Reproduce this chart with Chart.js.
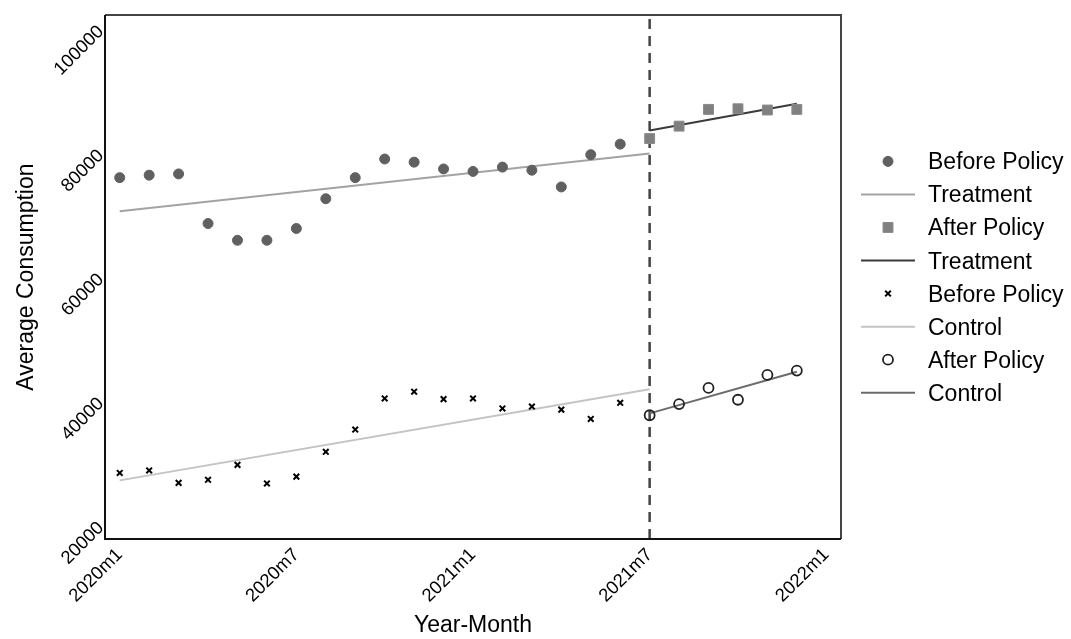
<!DOCTYPE html>
<html>
<head>
<meta charset="utf-8">
<script src="https://cdn.jsdelivr.net/npm/chart.js@4"></script>
<style>
  html, body { margin: 0; padding: 0; background: #fff; }
  #wrap { width: 1071px; height: 639px; }
</style>
</head>
<body>
<div id="wrap"><canvas id="myChart" width="1071" height="639"></canvas></div>
<script>
const FONT = "'Liberation Sans', Arial, sans-serif";

// month index: 0 = 2020m1
const tickMonths = [0, 6, 12, 18, 24];
const tickLabels = ['2020m1', '2020m7', '2021m1', '2021m7', '2022m1'];
const yTicks = [20000, 40000, 60000, 80000, 100000];
const policyMonth = 18;

const beforeMonths = [0, 1, 2, 3, 4, 5, 6, 7, 8, 9, 10, 11, 12, 13, 14, 15, 16, 17];
const afterMonths = [18, 19, 20, 21, 22, 23];

const treatBefore = [76000, 76400, 76600, 68600, 65900, 65900, 67800, 72600, 76000,
                     79000, 78500, 77400, 77000, 77700, 77200, 74500, 79700, 81400];
const treatAfter = [82300, 84300, 87000, 87100, 86900, 87000];
const ctrlBefore = [28400, 28800, 26800, 27300, 29700, 26700, 27800, 31800, 35400,
                    40400, 41500, 40300, 40400, 38800, 39100, 38600, 37100, 39700];
const ctrlAfter = [37700, 39500, 42100, 40200, 44200, 44900];

// fitted lines (end points)
const fitBeforeMonths = [0, 18];
const fitAfterMonths = [18, 23];
const treatBeforeFit = [70600, 79900];
const treatAfterFit = [83600, 87900];
const ctrlBeforeFit = [27200, 41900];
const ctrlAfterFit = [38000, 44700];

const toPoints = (xs, ys) => xs.map((x, i) => ({ x: x, y: ys[i] }));

function lineSet(label, xs, ys, color) {
  return {
    label: label, data: toPoints(xs, ys), showLine: true,
    borderColor: color, borderWidth: 2, pointRadius: 0, fill: false
  };
}

function drawMarker(ctx, ds, x, y) {
  const r = ds.pointRadius;
  ctx.save();
  ctx.fillStyle = ds.backgroundColor;
  ctx.strokeStyle = ds.borderColor;
  ctx.lineWidth = ds.borderWidth;
  ctx.beginPath();
  if (ds.pointStyle === 'circle') {
    ctx.arc(x, y, r, 0, Math.PI * 2);
    ctx.fill();
    ctx.stroke();
  } else if (ds.pointStyle === 'rect') {
    const s = r * Math.SQRT1_2;
    ctx.rect(x - s, y - s, 2 * s, 2 * s);
    ctx.fill();
    ctx.stroke();
  } else if (ds.pointStyle === 'crossRot') {
    const s = r * Math.SQRT1_2;
    ctx.moveTo(x - s, y - s); ctx.lineTo(x + s, y + s);
    ctx.moveTo(x + s, y - s); ctx.lineTo(x - s, y + s);
    ctx.stroke();
  }
  ctx.restore();
}

const sideLegend = {
  id: 'sideLegend',
  afterDraw(chart) {
    const { ctx, chartArea } = chart;
    const sets = chart.data.datasets;
    const rowH = 33.05;
    const y0 = (chartArea.top + chartArea.bottom) / 2 - rowH * (sets.length - 1) / 2;
    const mx = chartArea.right + 47;
    ctx.save();
    ctx.font = '23px ' + FONT;
    ctx.fillStyle = '#000';
    ctx.textBaseline = 'alphabetic';
    sets.forEach((ds, i) => {
      const y = y0 + i * rowH;
      if (ds.showLine) {
        ctx.save();
        ctx.strokeStyle = ds.borderColor;
        ctx.lineWidth = ds.borderWidth;
        ctx.beginPath();
        ctx.moveTo(mx - 27, y);
        ctx.lineTo(mx + 27, y);
        ctx.stroke();
        ctx.restore();
      } else {
        drawMarker(ctx, ds, mx, y);
      }
      ctx.fillText(ds.label, chartArea.right + 87, y + 8);
    });
    ctx.restore();
  }
};

const framePlugin = {
  id: 'frame',
  beforeDatasetsDraw(chart) {
    const { ctx, chartArea: a, scales } = chart;
    const px = scales.x.getPixelForValue(policyMonth);
    ctx.save();
    ctx.strokeStyle = '#444';
    ctx.lineWidth = 2.5;
    ctx.setLineDash([10, 7]);
    ctx.beginPath();
    ctx.moveTo(px, a.top + 4);
    ctx.lineTo(px, a.bottom);
    ctx.stroke();
    ctx.restore();
  },
  afterDraw(chart) {
    const { ctx, chartArea: a } = chart;
    ctx.save();
    ctx.lineWidth = 2;
    ctx.strokeStyle = '#444';
    ctx.beginPath();
    ctx.moveTo(a.left, a.top); ctx.lineTo(a.right, a.top); ctx.lineTo(a.right, a.bottom);
    ctx.stroke();
    ctx.strokeStyle = '#111';
    ctx.beginPath();
    ctx.moveTo(a.left, a.top); ctx.lineTo(a.left, a.bottom); ctx.lineTo(a.right, a.bottom);
    ctx.stroke();
    ctx.restore();
  }
};

const data = {
  datasets: [
    {
      label: 'Before Policy', data: toPoints(beforeMonths, treatBefore),
      pointStyle: 'circle', pointRadius: 5, backgroundColor: '#606060',
      borderColor: '#606060', borderWidth: 1
    },
    lineSet('Treatment', fitBeforeMonths, treatBeforeFit, '#a3a3a3'),
    {
      label: 'After Policy', data: toPoints(afterMonths, treatAfter),
      pointStyle: 'rect', pointRadius: 7, backgroundColor: '#808080',
      borderColor: '#8a8a8a', borderWidth: 1
    },
    lineSet('Treatment', fitAfterMonths, treatAfterFit, '#3a3a3a'),
    {
      label: 'Before Policy', data: toPoints(beforeMonths, ctrlBefore),
      pointStyle: 'crossRot', pointRadius: 4, backgroundColor: '#000',
      borderColor: '#000', borderWidth: 2
    },
    lineSet('Control', fitBeforeMonths, ctrlBeforeFit, '#c4c4c4'),
    {
      label: 'After Policy', data: toPoints(afterMonths, ctrlAfter),
      pointStyle: 'circle', pointRadius: 5, backgroundColor: 'rgba(0,0,0,0)',
      borderColor: '#222', borderWidth: 1.8
    },
    lineSet('Control', fitAfterMonths, ctrlAfterFit, '#6b6b6b')
  ]
};

const config = {
  type: 'scatter',
  data,
  options: {
    responsive: false,
    animation: false,
    layout: { padding: { top: 12, right: 230, left: 0, bottom: 0 } },
    plugins: { legend: { display: false }, tooltip: { enabled: false } },
    scales: {
      x: {
        type: 'linear', min: -0.5, max: 24.5,
        afterBuildTicks: s => { s.ticks = tickMonths.map(v => ({ value: v })); },
        afterFit: s => { s.height = 100; },
        grid: { display: false, drawTicks: false },
        border: { display: false },
        ticks: {
          autoSkip: false, minRotation: 45, maxRotation: 45, padding: 5,
          color: '#000', font: { size: 18.5, family: FONT },
          callback: (v, i) => tickLabels[i]
        },
        title: {
          display: true, text: 'Year-Month', color: '#000',
          font: { size: 23, family: FONT }, padding: { top: 0, bottom: 0 }
        }
      },
      y: {
        min: 17750, max: 102200,
        afterBuildTicks: s => { s.ticks = yTicks.map(v => ({ value: v })); },
        afterFit: s => { s.width = 105; },
        grid: { display: false, drawTicks: false },
        border: { display: false },
        ticks: {
          minRotation: 45, maxRotation: 45, padding: 4,
          color: '#000', font: { size: 18.5, family: FONT },
          callback: v => String(v)
        },
        title: {
          display: true, text: 'Average Consumption', color: '#000',
          font: { size: 23, family: FONT }, padding: { top: 13, bottom: 0 }
        }
      }
    }
  },
  plugins: [framePlugin, sideLegend]
};

new Chart(document.getElementById('myChart'), config);
</script>
</body>
</html>
